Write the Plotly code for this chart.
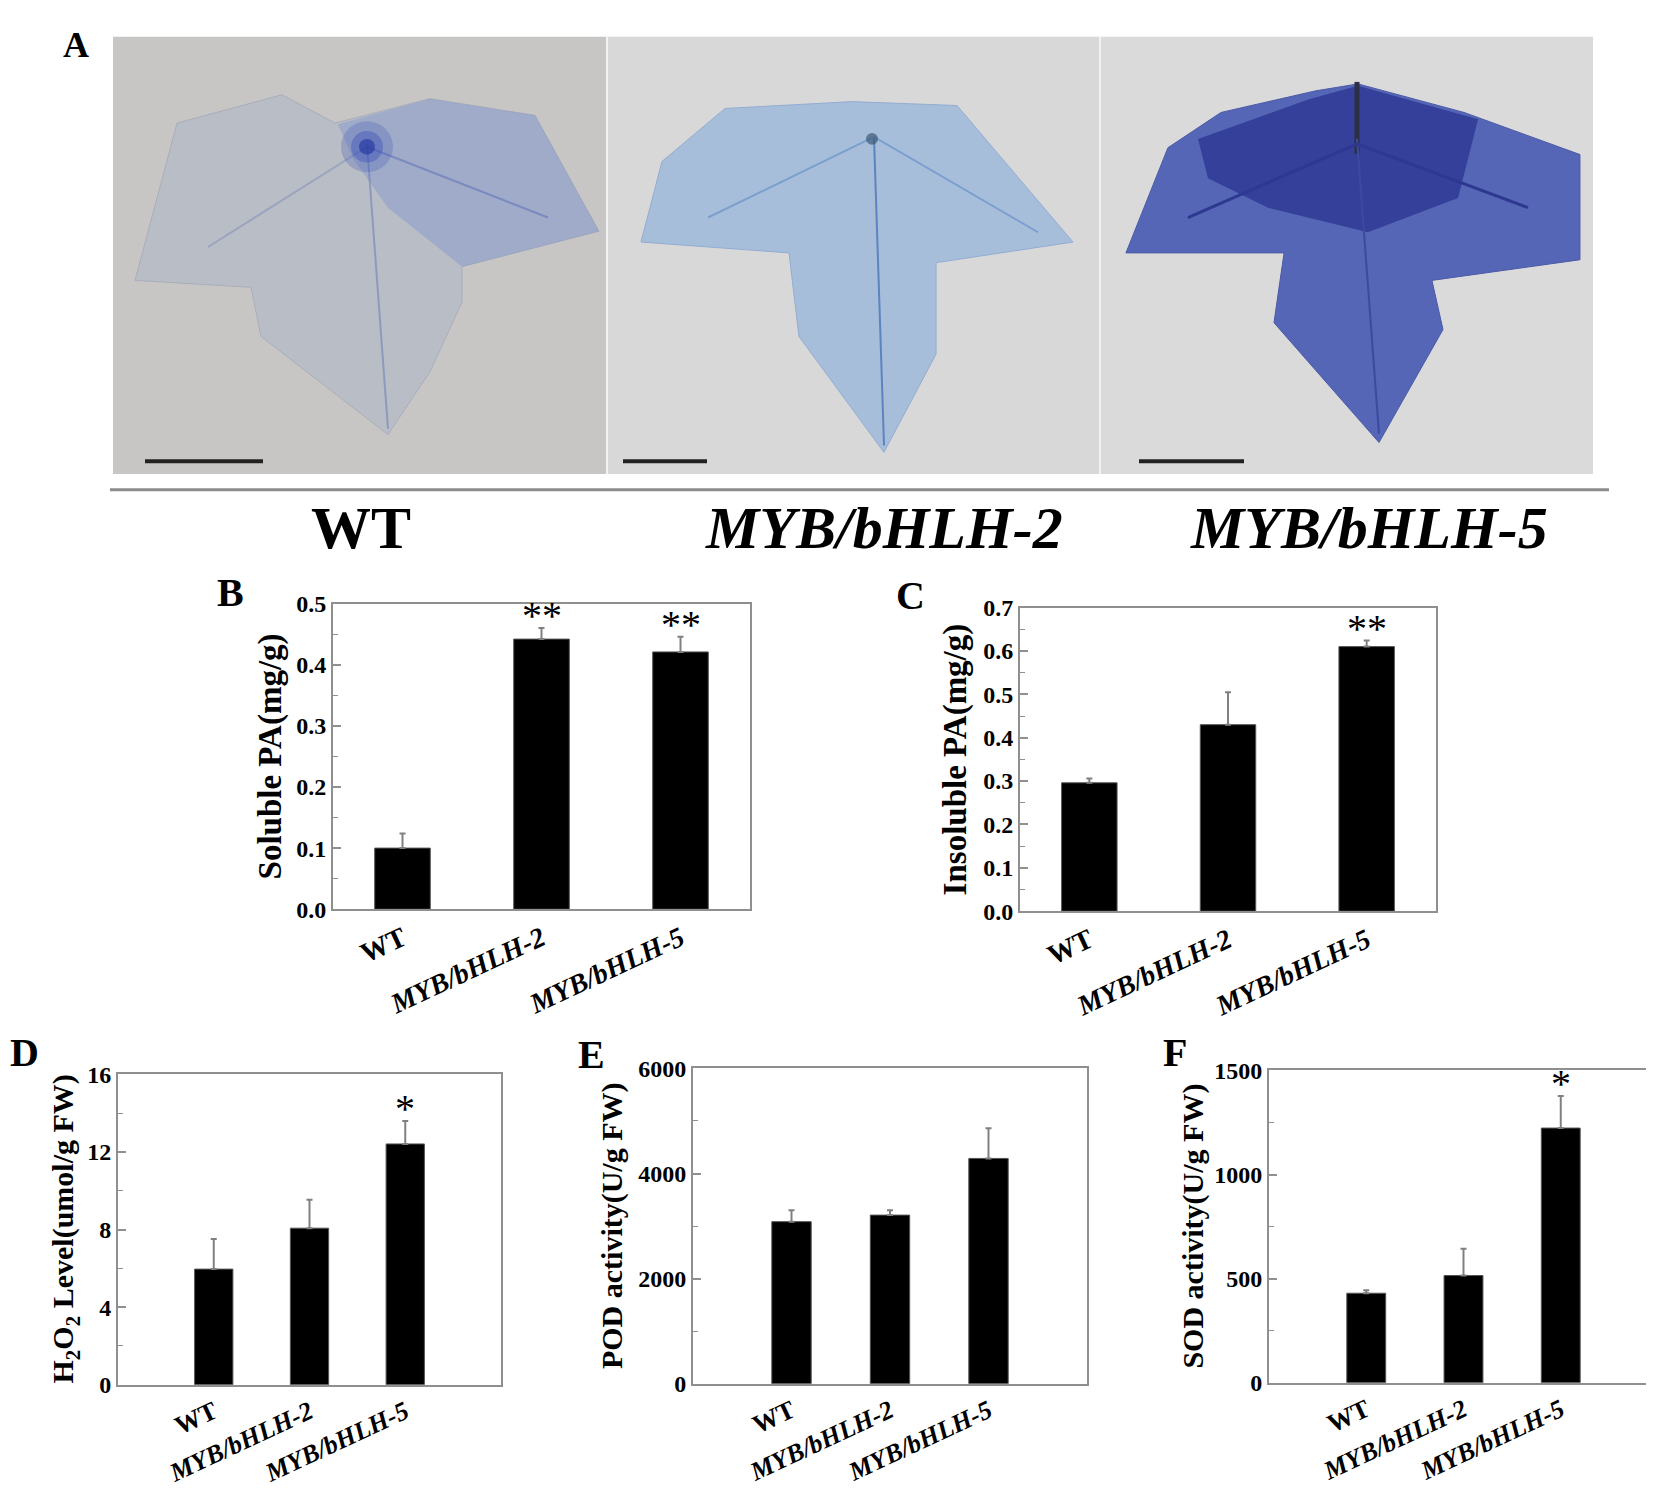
import plotly.graph_objects as go

W, H = 1654, 1489
SERIF = "Liberation Serif, Times New Roman, serif"

categories = ["WT", "MYB/bHLH-2", "MYB/bHLH-5"]
tick_text = ["WT", "<i>MYB/bHLH-2</i>", "<i>MYB/bHLH-5</i>"]

soluble_pa = [0.100, 0.442, 0.421]
soluble_pa_err = [0.024, 0.018, 0.025]
soluble_pa_sig = ["", "**", "**"]

insoluble_pa = [0.296, 0.430, 0.610]
insoluble_pa_err = [0.010, 0.075, 0.014]
insoluble_pa_sig = ["", "", "**"]

h2o2 = [5.96, 8.07, 12.41]
h2o2_err = [1.55, 1.47, 1.18]
h2o2_sig = ["", "", "*"]

pod = [3084, 3209, 4287]
pod_err = [218, 93, 573]
pod_sig = ["", "", ""]

sod = [430, 515, 1223]
sod_err = [14, 129, 154]
sod_sig = ["", "", "*"]


def px(x, y):
    return x / W, 1 - y / H


def path(points):
    pts = [px(x, y) for x, y in points]
    s = "M %.4f %.4f " % pts[0]
    s += " ".join("L %.4f %.4f" % p for p in pts[1:])
    return s + " Z"


fig = go.Figure()

# label, title, values, errors, sig, x px, y px, x range, y range, dtick, minor, fmt, label pos, title x, tick size, title size
panels = [
    ("B", "Soluble PA(mg/g)", soluble_pa, soluble_pa_err, soluble_pa_sig,
     (325, 742), (593, 904), (-0.5, 2.5), (0, 0.5), 0.1, 0.05, ".1f", (222, 582), 262, 28, 33),
    ("C", "Insoluble PA(mg/g)", insoluble_pa, insoluble_pa_err, insoluble_pa_sig,
     (1012, 1428), (597, 906), (-0.5, 2.5), (0, 0.7), 0.1, 0.05, ".1f", (903, 585), 947, 28, 33),
    ("D", "H<sub>2</sub>O<sub>2</sub> Level(umol/g FW)", h2o2, h2o2_err, h2o2_sig,
     (110, 493), (1072, 1388), (-1, 3), (0, 16), 4, 2, "d", (16, 1050), 57, 26, 30),
    ("E", "POD activity(U/g FW)", pod, pod_err, pod_sig,
     (685, 1079), (1066, 1387), (-1, 3), (0, 6000), 2000, 1000, "d", (583, 1052), 604, 26, 30),
    ("F", "SOD activity(U/g FW)", sod, sod_err, sod_sig,
     (1261, 1650), (1068, 1386), (-1, 3), (0, 1500), 500, 250, "d", (1167, 1050), 1185, 26, 30),
]

annotations = []
layout_axes = {}
for i, (lab, title, vals, errs, sig, xr, yr, xrange_, yrange_, dt, mdt, fmt, lpos, tx, tks, tts) in enumerate(panels):
    n = "" if i == 0 else str(i + 1)
    fig.add_trace(go.Bar(
        x=categories, y=vals, width=0.4,
        marker=dict(color="black", line=dict(color="#555", width=1)),
        error_y=dict(type="data", array=errs, arrayminus=[0] * len(errs),
                     symmetric=False, color="#808080", thickness=2, width=3),
        xaxis="x" + n, yaxis="y" + n, showlegend=False,
    ))
    x0, x1 = xr
    ytop, ybot = yr
    layout_axes["xaxis" + n] = dict(
        domain=[x0 / W, x1 / W], anchor="y" + n, range=list(xrange_),
        type="category", tickmode="array", tickvals=categories, ticktext=tick_text,
        tickangle=-25, ticks="", showline=True, mirror=True, linecolor="#8f8f8f",
        linewidth=2, showgrid=False, zeroline=False,
        tickfont=dict(family=SERIF, size=tks, color="black", weight="bold"),
    )
    layout_axes["yaxis" + n] = dict(
        domain=[1 - ybot / H, 1 - ytop / H], anchor="x" + n, range=list(yrange_),
        dtick=dt, tickformat=fmt, ticks="inside", ticklen=8, tickwidth=2,
        tickcolor="#8f8f8f", minor=dict(ticks="inside", ticklen=5, dtick=mdt,
                                         tickcolor="#8f8f8f", tickwidth=1),
        showline=True, mirror=True, linecolor="#8f8f8f", linewidth=2,
        showgrid=False, zeroline=False,
        tickfont=dict(family=SERIF, size=24, color="black", weight="bold"),
    )
    # significance marks
    for c, v, e, s in zip(categories, vals, errs, sig):
        if s:
            annotations.append(dict(
                x=c, y=v + e, xref="x" + n, yref="y" + n, text=s, showarrow=False,
                yanchor="bottom", yshift=-12,
                font=dict(family=SERIF, size=40, color="black"),
            ))
    # panel label
    lx, ly = px(*lpos)
    annotations.append(dict(x=lx, y=ly, xref="paper", yref="paper", text=lab,
                            showarrow=False, xanchor="center", yanchor="middle",
                            font=dict(family=SERIF, size=40, color="black", weight="bold")))
    # y title
    annotations.append(dict(x=tx / W, y=1 - (ytop + ybot) / 2 / H, xref="paper", yref="paper",
                            text=title, textangle=-90, showarrow=False,
                            xanchor="center", yanchor="middle",
                            font=dict(family=SERIF, size=tts, color="black", weight="bold")))

# panel A: photo stand-in
shapes = []
photo_panels = [(105, 599, "#c7c6c4"), (599, 1092, "#d8d8d8"), (1092, 1585, "#dadada")]
for a, b, col in photo_panels:
    (xa, ya), (xb, yb) = px(a, 16), px(b, 461)
    shapes.append(dict(type="rect", xref="paper", yref="paper", x0=xa, x1=xb, y0=yb, y1=ya,
                       fillcolor=col, line=dict(width=0), layer="below"))

leaf_wt = [(127, 264), (169, 104), (274, 75), (327, 104), (422, 79), (527, 96), (591, 214),
           (454, 250), (454, 286), (422, 357), (380, 421), (253, 321), (243, 271)]
leaf_2 = [(633, 225), (654, 143), (717, 89), (844, 82), (949, 86), (1065, 225), (928, 246),
          (928, 339), (876, 439), (791, 321), (781, 236)]
leaf_5 = [(1118, 236), (1160, 129), (1213, 93), (1308, 71), (1350, 64), (1456, 93), (1572, 136),
          (1572, 243), (1424, 264), (1435, 314), (1371, 429), (1266, 307), (1276, 236)]
leaf_5_dark = [(1190, 120), (1300, 80), (1350, 66), (1470, 100), (1450, 180), (1360, 215),
               (1260, 190), (1200, 160)]
leaf_wt_blue = [(330, 105), (422, 79), (527, 96), (591, 214), (454, 250), (380, 190), (345, 140)]

shapes += [
    dict(type="path", path=path(leaf_wt), xref="paper", yref="paper",
         fillcolor="#b9bdc6", line=dict(color="#a8aebb", width=1), layer="below"),
    dict(type="path", path=path(leaf_wt_blue), xref="paper", yref="paper",
         fillcolor="rgba(120,145,205,0.40)", line=dict(width=0), layer="below"),
    dict(type="path", path=path(leaf_2), xref="paper", yref="paper",
         fillcolor="#a7bedb", line=dict(color="#93acd2", width=1), layer="below"),
    dict(type="path", path=path(leaf_5), xref="paper", yref="paper",
         fillcolor="#5666b6", line=dict(color="#4b5aa8", width=1), layer="below"),
    dict(type="path", path=path(leaf_5_dark), xref="paper", yref="paper",
         fillcolor="#34409a", line=dict(width=0), layer="below"),
]
# veins, stems
for (xa, ya), (xb, yb), col, wd in [
    ((359, 125), (380, 415), "rgba(100,120,180,0.5)", 2),
    ((359, 128), (200, 230), "rgba(100,120,180,0.35)", 2),
    ((359, 128), (540, 200), "rgba(80,100,180,0.45)", 2),
    ((866, 118), (876, 432), "#5b84c0", 2),
    ((866, 118), (700, 200), "#7d9fcf", 2),
    ((866, 118), (1030, 215), "#7d9fcf", 2),
    ((1349, 62), (1349, 135), "#2c2f45", 5),
    ((1349, 120), (1371, 420), "#3c4aa0", 2),
    ((1349, 125), (1180, 200), "#2e3890", 3),
    ((1349, 125), (1520, 190), "#2e3890", 3),
]:
    (p0, q0), (p1, q1) = px(xa, ya), px(xb, yb)
    shapes.append(dict(type="line", xref="paper", yref="paper", x0=p0, y0=q0, x1=p1, y1=q1,
                       line=dict(color=col, width=wd), layer="below"))
# soft stain spots
for cx, cy, r, col in [(359, 128, 26, "rgba(60,80,180,0.25)"), (359, 128, 16, "rgba(50,70,180,0.35)"),
                       (359, 128, 8, "rgba(30,50,160,0.6)"), (864, 120, 6, "rgba(60,90,120,0.7)")]:
    (p0, q0), (p1, q1) = px(cx - r, cy - r), px(cx + r, cy + r)
    shapes.append(dict(type="circle", xref="paper", yref="paper", x0=p0, y0=q1, x1=p1, y1=q0,
                       fillcolor=col, line=dict(width=0), layer="below"))
# scale bars
for a, b in [(137, 255), (615, 699), (1131, 1236)]:
    (p0, q0), (p1, _) = px(a, 448), px(b, 448)
    shapes.append(dict(type="line", xref="paper", yref="paper", x0=p0, y0=q0, x1=p1, y1=q0,
                       line=dict(color="#222", width=4)))
# panel separators and rule below photos
for a in (599, 1092):
    (p0, q0), (_, q1) = px(a, 16), px(a, 461)
    shapes.append(dict(type="line", xref="paper", yref="paper", x0=p0, y0=q0, x1=p0, y1=q1,
                       line=dict(color="#f2f2f2", width=2)))
(p0, q0), (p1, _) = px(102, 477), px(1601, 477)
shapes.append(dict(type="line", xref="paper", yref="paper", x0=p0, y0=q0, x1=p1, y1=q0,
                   line=dict(color="#8c8c8c", width=3)))

for text, cx in [("WT", 353), ("<i>MYB/bHLH-2</i>", 876), ("<i>MYB/bHLH-5</i>", 1361)]:
    x, y = px(cx, 516)
    annotations.append(dict(x=x, y=y, xref="paper", yref="paper", text=text, showarrow=False,
                            xanchor="center", yanchor="middle",
                            font=dict(family=SERIF, size=60, color="black", weight="bold")))
x, y = px(68, 24)
annotations.append(dict(x=x, y=y, xref="paper", yref="paper", text="A", showarrow=False,
                        xanchor="center", yanchor="middle",
                        font=dict(family=SERIF, size=36, color="black", weight="bold")))

fig.update_layout(
    width=W, height=H, margin=dict(l=0, r=0, t=0, b=0),
    paper_bgcolor="white", plot_bgcolor="rgba(0,0,0,0)",
    shapes=shapes, annotations=annotations,
    **layout_axes,
)

fig.write_html("out.html")
